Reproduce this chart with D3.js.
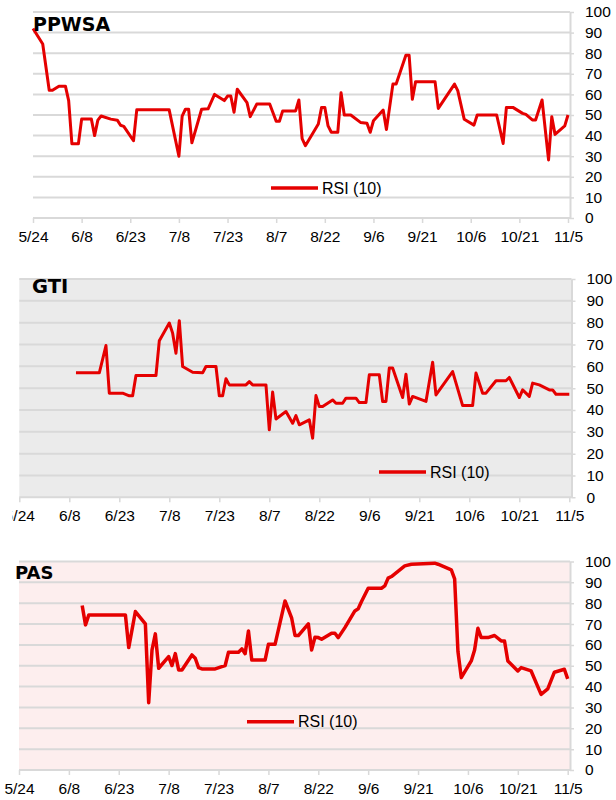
<!DOCTYPE html>
<html><head><meta charset="utf-8">
<script src="https://cdn.jsdelivr.net/npm/d3@7"></script>
<style>html,body{margin:0;padding:0;background:#fff;} svg{display:block;}</style>
</head><body>
<svg id="chart" width="616" height="800"></svg>
<script>
const YEAR = 2023;
const tickLabels = ["5/24","6/8","6/23","7/8","7/23","8/7","8/22","9/6","9/21","10/6","10/21","11/5"];
const yTicks = [0,10,20,30,40,50,60,70,80,90,100];
const seriesName = "RSI (10)";
const titles = ["PPWSA","GTI","PAS"];

const ppwsaDates = ["5/24","5/27","5/29","5/30","6/1","6/3","6/4","6/5","6/7","6/8","6/11","6/12","6/13","6/14","6/17","6/19","6/20","6/21","6/24","6/25","7/5","7/8","7/9","7/10","7/11","7/12","7/15","7/17","7/19","7/22","7/23","7/24","7/25","7/26","7/29","7/30","8/1","8/5","8/7","8/8","8/9","8/13","8/14","8/15","8/16","8/20","8/21","8/22","8/23","8/24","8/26","8/27","8/28","8/30","9/2","9/4","9/5","9/6","9/9","9/10","9/12","9/13","9/16","9/17","9/18","9/19","9/25","9/26","10/1","10/2","10/4","10/7","10/8","10/14","10/16","10/17","10/19","10/22","10/23","10/25","10/26","10/28","10/30","10/31","11/1","11/4","11/5"];
const ppwsaRsi = [92,84.5,62,62,64,64,57,36,36,48,48,40,47.5,49.5,48,47.5,45,44.5,37.5,52.5,52.5,30,49.5,52.8,52.8,36.5,52.8,53,60,57,59.2,59.2,51.3,62.5,56,49.2,55.3,55.3,47,47,52,52,57.3,38.5,35.1,45.6,53.7,53.7,44.7,41.6,41.6,60.8,50,50,46.4,46,41.6,47.2,52.4,43,65,65,79,79,57.6,66.2,66.2,53.2,65,61.8,47.9,45.1,50,50,36.2,53.7,53.7,50.8,50.3,47.6,47.6,57.3,28.2,49.2,40.6,44.7,50];

const gtiDates = ["6/10","6/17","6/19","6/20","6/24","6/26","6/27","6/28","7/4","7/5","7/8","7/9","7/10","7/11","7/12","7/15","7/18","7/19","7/22","7/23","7/24","7/25","7/26","7/31","8/1","8/2","8/6","8/7","8/8","8/9","8/12","8/14","8/15","8/16","8/19","8/20","8/21","8/22","8/23","8/26","8/27","8/29","8/30","9/2","9/3","9/5","9/6","9/9","9/10","9/11","9/12","9/13","9/16","9/17","9/18","9/19","9/23","9/25","9/26","10/1","10/4","10/7","10/8","10/10","10/11","10/14","10/17","10/18","10/21","10/22","10/24","10/25","10/27","10/30","10/31","11/1","11/5"];
const gtiRsi = [57,57,69.5,47.7,47.7,46.5,46.5,55.8,55.8,71.7,79.8,75.2,66,80.9,59.9,57.3,57,59.9,59.9,46.5,46.5,54.3,51.5,51.5,53,51.5,51.5,30.9,48.2,35.9,39.3,33.9,37.4,33.2,35.5,27.1,46.6,41.6,41.6,44.6,43.1,43.1,45.4,45.4,43.4,43.4,56.1,56.1,43.9,43.9,59.2,59.2,45.7,56.4,42.7,46.2,43.9,61.9,46.9,57.6,42,42,56.9,47.7,47.7,53.4,53.4,54.9,45.7,49.2,46.2,52.3,51.5,49.2,49.2,47.2,47.2];

const pasDates = ["6/12","6/13","6/14","6/25","6/26","6/28","7/1","7/2","7/3","7/4","7/5","7/8","7/9","7/10","7/11","7/12","7/15","7/16","7/17","7/18","7/22","7/24","7/25","7/26","7/29","7/30","7/31","8/1","8/2","8/6","8/7","8/9","8/12","8/14","8/15","8/16","8/19","8/20","8/21","8/22","8/23","8/26","8/27","8/28","8/30","9/2","9/3","9/4","9/6","9/10","9/11","9/12","9/13","9/17","9/19","9/26","9/27","10/1","10/2","10/3","10/4","10/7","10/8","10/9","10/10","10/12","10/14","10/16","10/17","10/18","10/21","10/22","10/25","10/28","10/30","11/1","11/4","11/5"];
const pasRsi = [78.9,69.6,74.4,74.4,58.7,76,70.1,32.3,57.6,65.3,48.8,54.4,50.1,55.8,48,48,55.2,53.6,49.1,48.5,48.5,49.6,50.1,56.5,56.5,58.1,55.8,66.7,52.7,52.7,60.3,60.3,81.1,72.8,64.5,64.5,70.1,57.6,63.7,63.5,62.7,65.6,65.6,63.5,68.3,76.3,77.3,80.8,87.2,87.2,88.3,92,92.8,97.9,98.7,99.2,98.7,96,91.7,56.8,44.3,52.3,57.6,68,63.5,63.5,64.5,61.9,61.9,52.3,47.5,49.1,47.5,36.3,38.9,46.9,48.3,43.7];

const parse = d3.timeParse("%m/%d/%Y");
const toDate = s => parse(s + "/" + YEAR);
const fmt = d3.timeFormat("%-m/%-d");

const panels = [
  {title: titles[0], dates: ppwsaDates, values: ppwsaRsi, left: 33, right: 568, axisX: 570, top: 12, bottom: 218, bg: "#ffffff", clipLeft: 0, titleX: 33, titleY: 31, titleSize: 19, legX: 271, legY: 188, lw: 3},
  {title: titles[1], dates: gtiDates, values: gtiRsi, left: 19.3, right: 569.3, axisX: 571.5, top: 279, bottom: 497.3, bg: "#ebebeb", clipLeft: 12.6, titleX: 32, titleY: 293, titleSize: 19.5, legX: 379, legY: 472, lw: 3},
  {title: titles[2], dates: pasDates, values: pasRsi, left: 19, right: 567.7, axisX: 570, top: 561.5, bottom: 770, bg: "#fdeeee", clipLeft: 0, titleX: 15, titleY: 579, titleSize: 18, legX: 247, legY: 721.7, lw: 3.5}
];

const svg = d3.select("#chart");
const RED = "#e50000";
const GRID = "#d9d9d9";
const FONT = "'Liberation Sans', Arial, sans-serif";

panels.forEach((p, i) => {
  const clipId = "clip" + i;
  svg.append("clipPath").attr("id", clipId)
    .append("rect").attr("x", p.clipLeft).attr("y", p.top - 20).attr("width", 616 - p.clipLeft).attr("height", p.bottom - p.top + 60);
  const g = svg.append("g").attr("clip-path", `url(#${clipId})`);

  const x = d3.scaleTime().domain([toDate(tickLabels[0]), toDate(tickLabels[tickLabels.length - 1])]).range([p.left, p.right]);
  const y = d3.scaleLinear().domain([0, 100]).range([p.bottom, p.top]);

  g.append("rect").attr("x", p.left).attr("y", p.top).attr("width", p.axisX - p.left).attr("height", p.bottom - p.top).attr("fill", p.bg);

  // gridlines
  g.append("g").selectAll("line").data(yTicks.filter(v => v > 0)).join("line")
    .attr("x1", p.left).attr("x2", p.axisX).attr("y1", d => y(d)).attr("y2", d => y(d))
    .attr("stroke", GRID).attr("stroke-width", 2);

  // bottom axis
  const xAxis = d3.axisBottom(x).tickValues(tickLabels.map(toDate)).tickFormat(fmt).tickSize(5).tickPadding(8).tickSizeOuter(0);
  const xa = g.append("g").attr("transform", `translate(0,${p.bottom})`).call(xAxis);
  xa.select(".domain").remove();
  xa.append("line").attr("x1", p.left).attr("x2", p.axisX).attr("y1", 0).attr("y2", 0).attr("stroke", GRID).attr("stroke-width", 2);
  xa.selectAll(".tick line").attr("stroke", GRID).attr("stroke-width", 1.5);
  xa.selectAll("text").attr("fill", "#000").style("font-family", FONT).style("font-size", "15.5px");

  // right axis
  const yAxis = d3.axisRight(y).tickValues(yTicks).tickSize(4).tickPadding(11).tickSizeOuter(0);
  const ya = g.append("g").attr("transform", `translate(${p.axisX},0)`).call(yAxis);
  ya.select(".domain").attr("stroke", GRID).attr("stroke-width", 2);
  ya.selectAll(".tick line").attr("stroke", GRID).attr("stroke-width", 1.5);
  ya.selectAll("text").attr("fill", "#000").style("font-family", FONT).style("font-size", "15.5px");

  // line
  const data = p.dates.map((d, k) => ({date: toDate(d), v: p.values[k]}));
  g.append("path").datum(data)
    .attr("fill", "none").attr("stroke", RED).attr("stroke-width", p.lw)
    .attr("stroke-linejoin", "round").attr("stroke-linecap", "butt")
    .attr("d", d3.line().x(d => x(d.date)).y(d => y(d.v)));

  // title
  g.append("text").attr("x", p.titleX).attr("y", p.titleY).text(p.title)
    .style("font-family", "'DejaVu Sans', Verdana, sans-serif").style("font-weight", "bold").style("font-size", p.titleSize + "px").attr("fill", "#000");

  // legend
  g.append("line").attr("x1", p.legX).attr("x2", p.legX + 47).attr("y1", p.legY).attr("y2", p.legY).attr("stroke", RED).attr("stroke-width", 3.5);
  g.append("text").attr("x", p.legX + 51).attr("y", p.legY).attr("dy", "0.36em").text(seriesName)
    .style("font-family", FONT).style("font-size", "16px").attr("fill", "#000");
});
</script>
</body></html>
